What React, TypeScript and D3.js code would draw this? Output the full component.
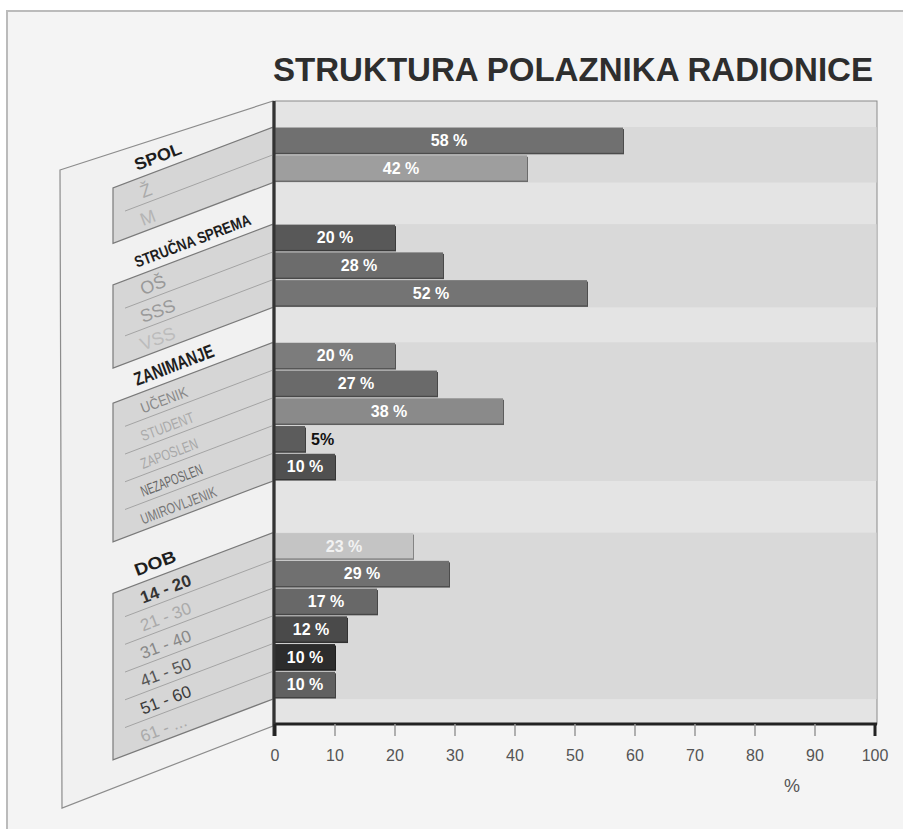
import React, { useRef, useEffect } from "react";
import * as d3 from "d3";

// podaci
const chartTitle = "STRUKTURA POLAZNIKA RADIONICE";
const groupNames = ["SPOL", "STRUČNA SPREMA", "ZANIMANJE", "DOB"];
const spolCats = ["Ž", "M"];
const spolValues = [58, 42];
const spremaCats = ["OŠ", "SSS", "VSS"];
const spremaValues = [20, 28, 52];
const zanimanjeCats = ["UČENIK", "STUDENT", "ZAPOSLEN", "NEZAPOSLEN", "UMIROVLJENIK"];
const zanimanjeValues = [20, 27, 38, 5, 10];
const dobCats = ["14 - 20", "21 - 30", "31 - 40", "41 - 50", "51 - 60", "61 - ..."];
const dobValues = [23, 29, 17, 12, 10, 10];
const xTicks = [0, 10, 20, 30, 40, 50, 60, 70, 80, 90, 100];
const xUnit = "%";

// boje (stil)
const barColors = [
  ["#707070", "#9e9e9e"],
  ["#585858", "#6c6c6c", "#747474"],
  ["#7c7c7c", "#6a6a6a", "#8a8a8a", "#5c5c5c", "#505050"],
  ["#c4c4c4", "#707070", "#686868", "#4a4a4a", "#2c2c2c", "#606060"],
];
const catColors = [
  ["#aaa", "#b4b4b4"],
  ["#999", "#9a9a9a", "#bcbcbc"],
  ["#888", "#aaa", "#a8a8a8", "#666", "#777"],
  ["#333", "#aaa", "#888", "#555", "#3c3c3c", "#aaa"],
];

function App() {
  const canvas = useRef<HTMLDivElement>(null);

  useEffect(() => {
    const W = 903, H = 829;
    const x0 = 275, x1 = 877, yTop = 101, yBot = 724;
    const k = 0.38; // nagib lijevog panela
    const edgeX = 273, boxLeft = 113;
    const angle = (-Math.atan(k) * 180) / Math.PI;

    const groups = [
      { name: groupNames[0], cats: spolCats, vals: spolValues },
      { name: groupNames[1], cats: spremaCats, vals: spremaValues },
      { name: groupNames[2], cats: zanimanjeCats, vals: zanimanjeValues },
      { name: groupNames[3], cats: dobCats, vals: dobValues },
    ];
    const gaps = [0.94, 1.5, 1.26, 1.86];
    const tail = 0.9;
    let r = 0;
    const layout = groups.map((g, i) => {
      r += gaps[i];
      const start = r;
      r += g.cats.length;
      return { ...g, start, gi: i };
    });
    const total = r + tail;

    const x = d3.scaleLinear().domain([0, 100]).range([x0, x1 - 2]);
    const y = d3.scaleLinear().domain([0, total]).range([yTop, yBot]);

    d3.select(canvas.current).select("svg").remove();
    const svg = d3
      .select(canvas.current)
      .append("svg")
      .attr("width", W)
      .attr("height", H)
      .style("position", "absolute")
      .style("left", 0)
      .style("top", 0)
      .style("font-family", "'Liberation Sans', Arial, sans-serif");

    svg.append("rect").attr("width", W).attr("height", H).attr("fill", "#fff");
    svg.append("rect").attr("x", 6).attr("y", 10).attr("width", W).attr("height", H).attr("fill", "#f4f4f4");
    svg.append("path").attr("d", `M7,${H} V11 H${W}`).attr("fill", "none").attr("stroke", "#bbb").attr("stroke-width", 2);

    // naslov
    svg.append("text")
      .attr("x", 273).attr("y", 81)
      .attr("font-size", 33).attr("font-weight", "bold").attr("fill", "#2e2e2e")
      .attr("textLength", 600).attr("lengthAdjust", "spacingAndGlyphs")
      .text(chartTitle);

    // lijevi panel
    const panel = [[60, 170], [edgeX, yTop], [edgeX, yBot + 2], [62, 808]];
    svg.append("path")
      .attr("d", d3.line()(panel as [number, number][]) + "Z")
      .attr("fill", "#f1f1f1").attr("stroke", "#8c8c8c").attr("stroke-width", 1.2);

    const skewY = (yy: number, xx: number) => yy + (edgeX - xx) * k;

    layout.forEach((g) => {
      const top = y(g.start), bot = y(g.start + g.cats.length);
      const box: [number, number][] = [
        [edgeX, top], [edgeX, bot], [boxLeft, skewY(bot, boxLeft)], [boxLeft, skewY(top, boxLeft)],
      ];
      svg.append("path").attr("d", d3.line()(box) + "Z")
        .attr("fill", "#d6d6d6").attr("stroke", "#7a7a7a").attr("stroke-width", 1.2);

      // razdjelne linije
      g.cats.slice(1).forEach((_, i) => {
        const yy = y(g.start + i + 1);
        svg.append("line")
          .attr("x1", 125).attr("y1", skewY(yy, 125))
          .attr("x2", edgeX).attr("y2", yy)
          .attr("stroke", "#a4a4a4").attr("stroke-width", 1);
      });

      // naslov grupe
      const tx = 137, ty = skewY(top, tx) - 8;
      const titleLen = [49, 123, 84, 43][g.gi];
      const titleSize = [17, 16, 19, 17][g.gi];
      svg.append("text")
        .attr("transform", `translate(${tx},${ty}) rotate(${angle})`)
        .attr("font-size", titleSize).attr("font-weight", "bold").attr("fill", "#1e1e1e")
        .attr("textLength", titleLen).attr("lengthAdjust", "spacingAndGlyphs")
        .text(g.name);

      // kategorije
      g.cats.forEach((c, i) => {
        const cx = 143, cy = skewY(y(g.start + i + 1), cx) - 6;
        const len = g.gi === 2 ? [49, 56, 60, 65, 80][i] : null;
        const t = svg.append("text")
          .attr("transform", `translate(${cx},${cy}) rotate(${angle})`)
          .attr("font-size", g.gi === 2 ? 15 : g.gi === 3 ? 17 : 18)
          .attr("font-weight", g.gi === 3 && i === 0 ? "bold" : "normal")
          .attr("fill", catColors[g.gi][i])
          .text(c);
        if (len) t.attr("textLength", len).attr("lengthAdjust", "spacingAndGlyphs");
      });
    });

    // područje grafa
    svg.append("rect")
      .attr("x", x0).attr("y", yTop).attr("width", x1 - x0).attr("height", yBot - yTop)
      .attr("fill", "#e4e4e4").attr("stroke", "#8a8a8a").attr("stroke-width", 1);

    layout.forEach((g) => {
      svg.append("rect")
        .attr("x", x0 + 1).attr("y", y(g.start))
        .attr("width", x1 - x0 - 1.5).attr("height", y(g.start + g.cats.length) - y(g.start))
        .attr("fill", "#d9d9d9");
    });

    // stupci
    layout.forEach((g) => {
      g.vals.forEach((v, i) => {
        const by = y(g.start + i) + 0.5;
        const bh = y(g.start + i + 1) - y(g.start + i) - 2.5;
        const col = barColors[g.gi][i];
        svg.append("rect")
          .attr("x", x(0)).attr("y", by + 1.5)
          .attr("width", x(v) - x(0) + 1).attr("height", bh)
          .attr("fill", d3.color(col)!.darker(1.1).toString());
        svg.append("rect")
          .attr("x", x(0)).attr("y", by)
          .attr("width", x(v) - x(0)).attr("height", bh)
          .attr("fill", col);
        const inside = x(v) - x(0) > 40;
        svg.append("text")
          .attr("x", inside ? (x(0) + x(v)) / 2 : x(v) + 6)
          .attr("y", by + bh / 2 + 6)
          .attr("text-anchor", inside ? "middle" : "start")
          .attr("font-size", 16).attr("font-weight", "bold")
          .attr("fill", inside ? (g.gi === 3 && i === 0 ? "#f2f2f2" : "#fff") : "#111")
          .text(inside ? `${v} %` : `${v}%`);
      });
    });

    // os x
    svg.append("line")
      .attr("x1", x0 - 1).attr("x2", x1).attr("y1", yBot).attr("y2", yBot)
      .attr("stroke", "#222").attr("stroke-width", 3);
    svg.append("line")
      .attr("x1", x0 - 1).attr("x2", x0 - 1).attr("y1", yTop).attr("y2", yBot + 12)
      .attr("stroke", "#333").attr("stroke-width", 3);

    xTicks.forEach((t) => {
      const edge = t === 0 || t === 100;
      svg.append("line")
        .attr("x1", x(t)).attr("x2", x(t)).attr("y1", yBot).attr("y2", yBot + 12)
        .attr("stroke", edge ? "#222" : "#999").attr("stroke-width", edge ? 3 : 1.5);
      svg.append("text")
        .attr("x", x(t)).attr("y", yBot + 37)
        .attr("text-anchor", "middle").attr("font-size", 16).attr("fill", "#555")
        .text(t);
    });
    svg.append("text")
      .attr("x", 792).attr("y", 792).attr("text-anchor", "middle")
      .attr("font-size", 18).attr("fill", "#555")
      .text(xUnit);
  }, []);

  return <div ref={canvas}></div>;
}

export default App;
